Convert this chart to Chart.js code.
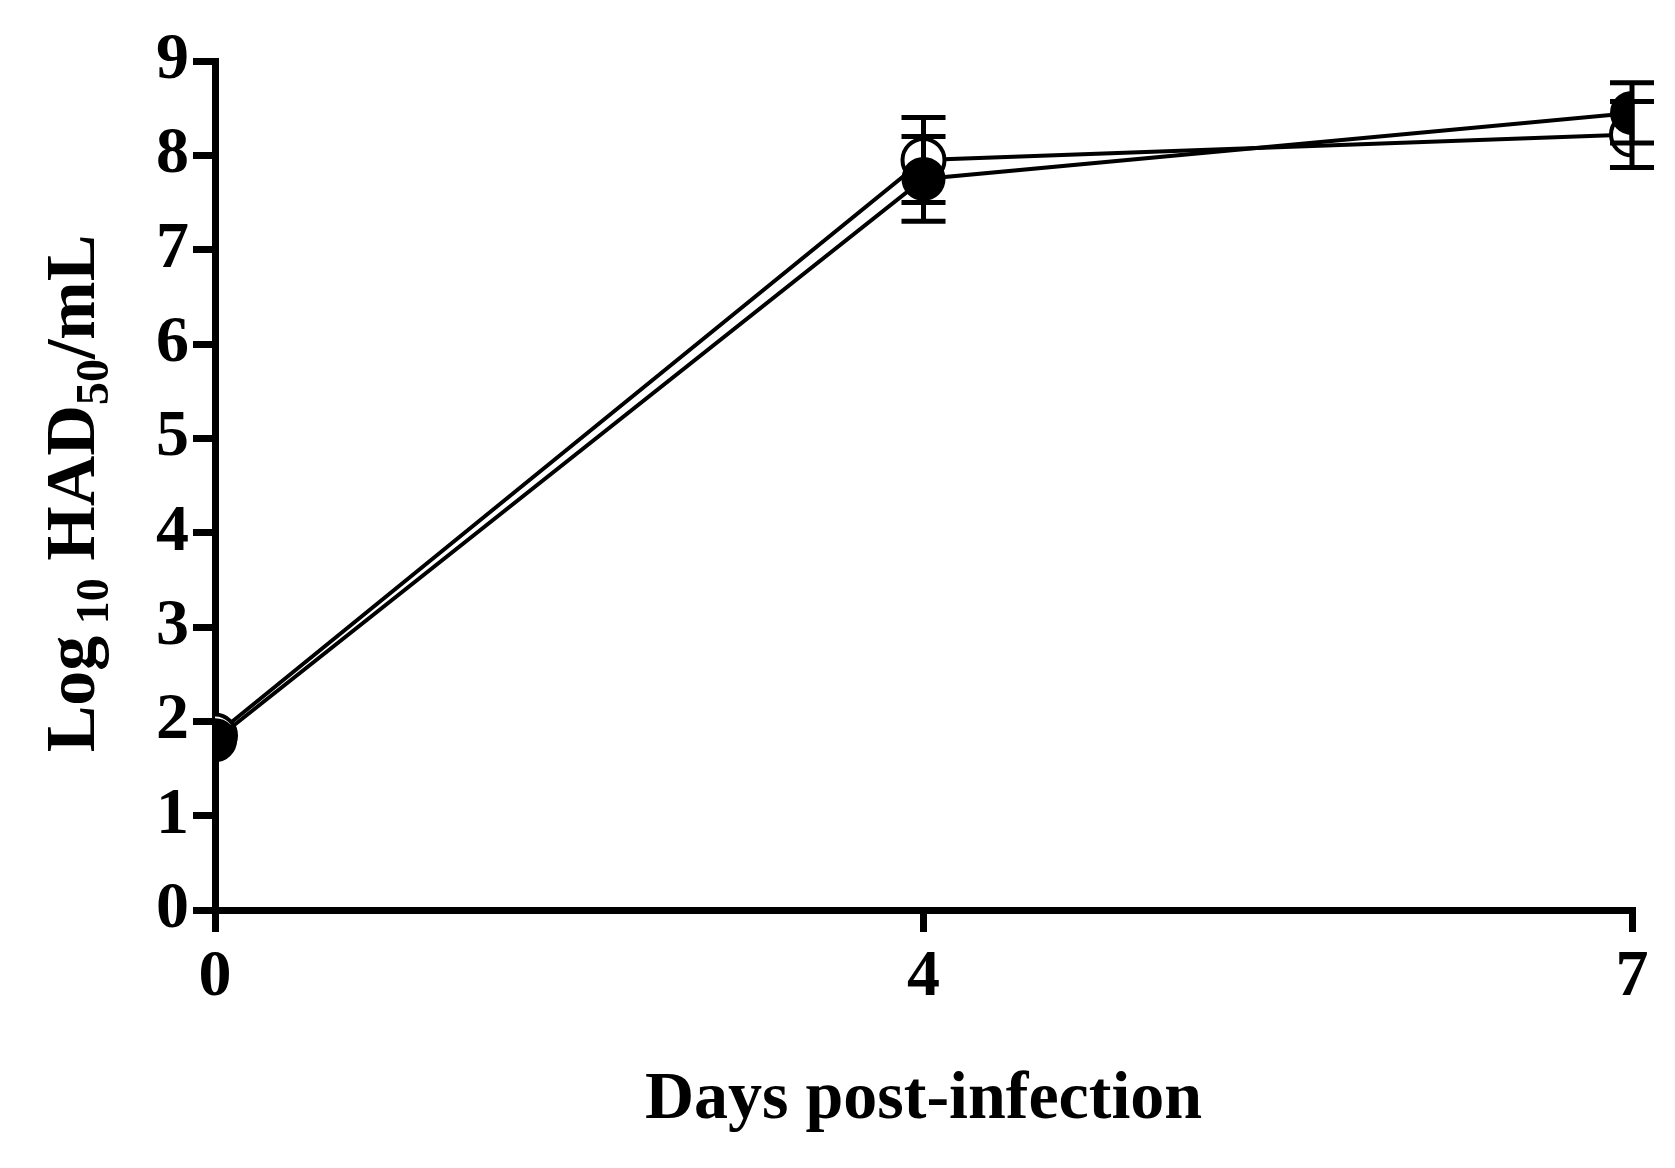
<!DOCTYPE html>
<html><head><meta charset="utf-8">
<script src="https://cdn.jsdelivr.net/npm/chart.js@4"></script>
<style>body{margin:0;background:#fff}#wrap{width:1675px;height:1168px}</style>
</head><body><div id="wrap"><canvas id="chart"></canvas></div>
<script>
// data
const days = ['0', '4', '7'];
const openMean = [1.85, 7.95, 8.22];
const openErr = [0, 0.45, 0.35];
const filledMean = [1.8, 7.75, 8.45];
const filledErr = [0, 0.45, 0.32];

const FONT = '"Liberation Serif", "Times New Roman", serif';

const errorBars = {
  id: 'errorBars',
  afterDatasetsDraw(chart) {
    const ctx = chart.ctx, x = chart.scales.x, y = chart.scales.y;
    ctx.save();
    ctx.strokeStyle = '#000';
    ctx.lineWidth = 5;
    chart.data.datasets.forEach(ds => {
      ds.data.forEach((p, i) => {
        const e = ds.err[i];
        if (!e) return;
        const px = x.getPixelForValue(p.x);
        const top = y.getPixelForValue(p.y + e), bot = y.getPixelForValue(p.y - e);
        ctx.beginPath();
        ctx.moveTo(px, top); ctx.lineTo(px, bot);
        ctx.moveTo(px - 22, top); ctx.lineTo(px + 22, top);
        ctx.moveTo(px - 22, bot); ctx.lineTo(px + 22, bot);
        ctx.stroke();
      });
    });
    ctx.restore();
  }
};

const titles = {
  id: 'titles',
  afterDraw(chart) {
    const ctx = chart.ctx, a = chart.chartArea;
    ctx.save();
    ctx.fillStyle = '#000';
    ctx.textBaseline = 'alphabetic';
    ctx.textAlign = 'center';
    ctx.font = 'bold 68px ' + FONT;
    ctx.fillText('Days post-infection', (a.left + a.right) / 2, 1118);
    // y title with subscripts
    const parts = [['Log', 70, 0], [' 10', 46, 14], [' HAD', 70, 0], ['50', 46, 14], ['/mL', 70, 0]];
    let total = 0;
    parts.forEach(p => { ctx.font = 'bold ' + p[1] + 'px ' + FONT; total += ctx.measureText(p[0]).width; });
    ctx.translate(94, (a.top + a.bottom) / 2 + 8);
    ctx.rotate(-Math.PI / 2);
    ctx.textAlign = 'left';
    let cx = -total / 2;
    parts.forEach(p => {
      ctx.font = 'bold ' + p[1] + 'px ' + FONT;
      ctx.fillText(p[0], cx, p[2]);
      cx += ctx.measureText(p[0]).width;
    });
    ctx.restore();
  }
};

function pts(m) { return days.map((d, i) => ({x: i, y: m[i]})); }

new Chart(document.getElementById('chart').getContext('2d'), {
  type: 'scatter',
  data: {
    datasets: [
      {data: pts(openMean), err: openErr, order: 2, showLine: true, borderColor: '#000', borderWidth: 4,
       pointRadius: 21, pointBackgroundColor: '#fff', pointBorderColor: '#000', pointBorderWidth: 4},
      {data: pts(filledMean), err: filledErr, order: 1, showLine: true, borderColor: '#000', borderWidth: 4,
       pointRadius: 21, pointBackgroundColor: '#000', pointBorderColor: '#000', pointBorderWidth: 2}
    ]
  },
  options: {
    responsive: true, maintainAspectRatio: false, animation: false,
    layout: {padding: {top: 61, right: 43, left: 0, bottom: 0}},
    plugins: {legend: {display: false}, tooltip: {enabled: false}},
    scales: {
      x: {
        type: 'linear', min: 0, max: 2,
        afterBuildTicks: s => { s.ticks = days.map((d, i) => ({value: i})); },
        afterFit: s => { s.height = 258; },
        border: {color: '#000', width: 7},
        grid: {drawOnChartArea: false, tickLength: 22, color: '#000', lineWidth: 7},
        ticks: {callback: v => days[v], color: '#000', font: {family: FONT, size: 66, weight: 'bold'}, padding: 6, maxRotation: 0}
      },
      y: {
        min: 0, max: 9,
        afterFit: s => { s.width = 215; },
        border: {color: '#000', width: 7},
        grid: {drawOnChartArea: false, tickLength: 22, color: '#000', lineWidth: 7},
        ticks: {stepSize: 1, color: '#000', font: {family: FONT, size: 66, weight: 'bold'}, padding: 4}
      }
    }
  },
  plugins: [errorBars, titles]
});
</script></body></html>
